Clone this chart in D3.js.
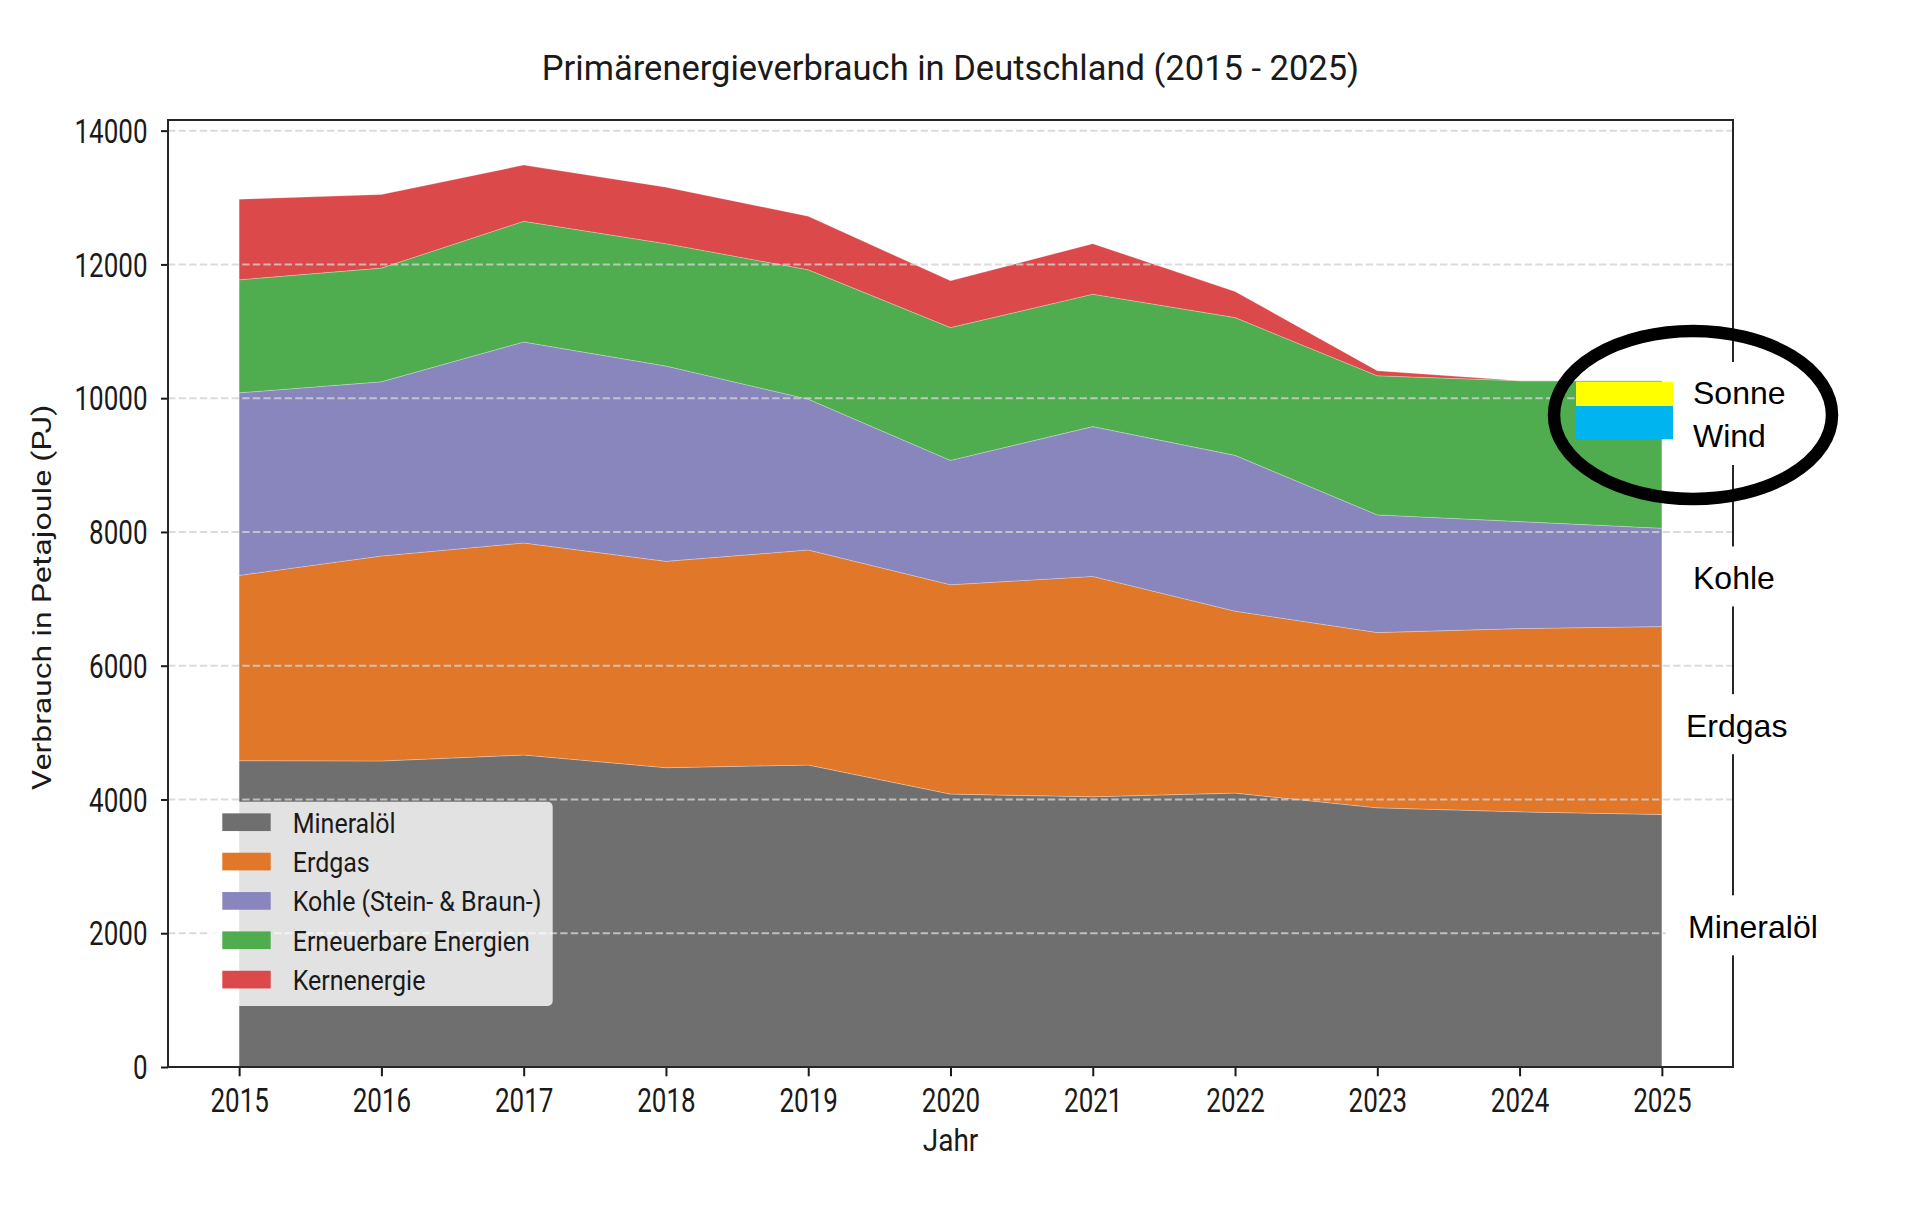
<!DOCTYPE html>
<html>
<head>
<meta charset="utf-8">
<script src="https://cdn.jsdelivr.net/npm/d3@7"></script>
<style>
  body { margin: 0; background: #fff; }
</style>
</head>
<body>
<script>
// data (PJ)
const years = [2015, 2016, 2017, 2018, 2019, 2020, 2021, 2022, 2023, 2024, 2025];
const mineraloel  = [4580, 4575, 4665, 4475, 4515, 4080, 4040, 4095, 3875, 3815, 3775];
const erdgas      = [2770, 3065, 3170, 3085, 3215, 3130, 3295, 2720, 2620, 2740, 2810];
const kohle       = [2730, 2605, 3005, 2920, 2255, 1860, 2240, 2330, 1760, 1600, 1470];
const erneuerbare = [1690, 1700, 1805, 1830, 1935, 1985, 1980, 2060, 2080, 2105, 2205];
const kernenergie = [1205, 1100,  840,  845,  800,  700,  755,  390,   75,    0,    0];

const seriesKeys   = ["Mineralöl", "Erdgas", "Kohle (Stein- & Braun-)", "Erneuerbare Energien", "Kernenergie"];
const seriesValues = [mineraloel, erdgas, kohle, erneuerbare, kernenergie];
const seriesColors = ["#6f6f6f", "#e07729", "#8986bd", "#4fad4f", "#db494a"];
const yTicks = [0, 2000, 4000, 6000, 8000, 10000, 12000, 14000];

// hand-made annotations on the right side (value = PJ position of the label)
const sideLabels = [
  { text: "Kohle", value: 7312, dx: 3 },
  { text: "Erdgas", value: 5103, dx: -4 },
  { text: "Mineralöl", value: 2096, dx: -2 }
];
const calloutLabels = ["Sonne", "Wind"];
const calloutColors = ["#ffff00", "#00b4f0"];

// layout
const width = 1920, height = 1211;
const plotLeft = 168, plotRight = 1733, plotTop = 120, plotBottom = 1067;
const font = "Roboto, 'Open Sans', sans-serif";
const ink = "#1a1a1a";

const table = years.map((yr, i) => {
  const row = { year: yr };
  seriesKeys.forEach((k, j) => (row[k] = seriesValues[j][i]));
  return row;
});

const stacked = d3.stack().keys(seriesKeys)(table);
const yMax = 1.05 * d3.max(table, (d) => d3.sum(seriesKeys, (k) => d[k]));

const x = d3.scaleLinear([2014.5, 2025.5], [plotLeft, plotRight]);
const y = d3.scaleLinear([0, yMax], [plotBottom, plotTop]);

const svg = d3
  .select("body")
  .append("svg")
  .attr("width", width)
  .attr("height", height)
  .attr("viewBox", [0, 0, width, height]);

svg.append("rect").attr("width", width).attr("height", height).attr("fill", "#fff");

// title
svg
  .append("text")
  .attr("x", (plotLeft + plotRight) / 2)
  .attr("y", 80)
  .attr("text-anchor", "middle")
  .attr("font-family", font)
  .attr("font-size", 34.5)
  .attr("fill", ink)
  .text("Primärenergieverbrauch in Deutschland (2015 - 2025)");

// stacked areas
const area = d3
  .area()
  .x((d) => x(d.data.year))
  .y0((d) => y(d[0]))
  .y1((d) => y(d[1]));

svg
  .append("g")
  .selectAll("path")
  .data(stacked)
  .join("path")
  .attr("d", area)
  .attr("fill", (d, i) => seriesColors[i])
  .attr("stroke", "#ffffff")
  .attr("stroke-opacity", 0.25)
  .attr("stroke-width", 1);

// dashed grid on top of the areas
svg
  .append("g")
  .selectAll("line")
  .data(yTicks)
  .join("line")
  .attr("x1", plotLeft)
  .attr("x2", plotRight)
  .attr("y1", (d) => y(d))
  .attr("y2", (d) => y(d))
  .attr("stroke", "#d2d2d2")
  .attr("stroke-opacity", 0.8)
  .attr("stroke-width", 2)
  .attr("stroke-dasharray", "7.4,3.2");

// axes
const yAxis = d3.axisLeft(y).tickValues(yTicks).tickFormat(d3.format("d")).tickSize(7).tickSizeOuter(0);
const xAxis = d3.axisBottom(x).tickValues(years).tickFormat(d3.format("d")).tickSize(9.3).tickSizeOuter(0);

svg
  .append("g")
  .attr("transform", `translate(${plotLeft},0)`)
  .call(yAxis)
  .call((g) => g.select(".domain").remove())
  .call((g) => g.selectAll(".tick line").attr("stroke", ink).attr("stroke-width", 2))
  .call((g) =>
    g
      .selectAll(".tick text")
      .attr("x", 0)
      .attr("dy", null)
      .attr("transform", "translate(-20.5,11.6) scale(1,1.26)")
      .attr("text-anchor", "end")
      .attr("font-family", font)
      .attr("font-size", 26)
      .attr("fill", ink)
  );

svg
  .append("g")
  .attr("transform", `translate(0,${plotBottom})`)
  .call(xAxis)
  .call((g) => g.select(".domain").remove())
  .call((g) => g.selectAll(".tick line").attr("stroke", ink).attr("stroke-width", 2))
  .call((g) =>
    g
      .selectAll(".tick text")
      .attr("y", 0)
      .attr("dy", null)
      .attr("transform", "translate(0,45) scale(1,1.26)")
      .attr("font-family", font)
      .attr("font-size", 26)
      .attr("fill", ink)
  );

// frame
svg
  .append("rect")
  .attr("x", plotLeft)
  .attr("y", plotTop)
  .attr("width", plotRight - plotLeft)
  .attr("height", plotBottom - plotTop)
  .attr("fill", "none")
  .attr("stroke", "#262626")
  .attr("stroke-width", 2);

// axis labels
svg
  .append("text")
  .attr("transform", `translate(${(plotLeft + plotRight) / 2},1151) scale(1,1.1)`)
  .attr("text-anchor", "middle")
  .attr("font-family", font)
  .attr("font-size", 28)
  .attr("fill", ink)
  .text("Jahr");

svg
  .append("text")
  .attr("transform", `translate(50.7,${(plotTop + plotBottom) / 2 + 4}) scale(1,1.25) rotate(-90)`)
  .attr("text-anchor", "middle")
  .attr("font-family", font)
  .attr("font-size", 25.7)
  .attr("fill", ink)
  .text("Verbrauch in Petajoule (PJ)");

// legend
const legend = svg.append("g");
legend
  .append("rect")
  .attr("x", 210)
  .attr("y", 801.7)
  .attr("width", 342.7)
  .attr("height", 204.3)
  .attr("rx", 5)
  .attr("fill", "#fff")
  .attr("fill-opacity", 0.8);

const rowY = (i) => 822.2 + i * 39.35;
legend
  .selectAll("g.item")
  .data(seriesKeys)
  .join("g")
  .attr("class", "item")
  .attr("transform", (d, i) => `translate(222.3,${rowY(i)})`)
  .each(function (d, i) {
    const g = d3.select(this);
    g.append("rect")
      .attr("x", 0)
      .attr("y", -8.85)
      .attr("width", 48.4)
      .attr("height", 17.7)
      .attr("fill", seriesColors[i]);
    g.append("text")
      .attr("transform", "translate(70.4,10.3) scale(1,1.08)")
      .attr("font-family", font)
      .attr("font-size", 25)
      .attr("fill", ink)
      .text(d);
  });

// right side annotations
const noteFont = "'Liberation Sans', Arial, Helvetica, sans-serif";
const boxX = 1666, boxW = 200;

const notes = svg.append("g");
notes
  .selectAll("rect.box")
  .data(sideLabels)
  .join("rect")
  .attr("class", "box")
  .attr("x", boxX)
  .attr("y", (d) => y(d.value) - 31.5)
  .attr("width", boxW)
  .attr("height", 60)
  .attr("fill", "#fff");

notes
  .selectAll("text.side")
  .data(sideLabels)
  .join("text")
  .attr("class", "side")
  .attr("x", (d) => 1690 + d.dx)
  .attr("y", (d) => y(d.value) + 11.4)
  .attr("font-family", noteFont)
  .attr("font-size", 32)
  .attr("fill", "#000")
  .text((d) => d.text);

// Sonne / Wind callout
notes
  .append("rect")
  .attr("x", boxX)
  .attr("y", 362)
  .attr("width", boxW)
  .attr("height", 103)
  .attr("fill", "#fff");

const swatchTop = [381.7, 406];
const swatchH = [24.3, 33.3];
notes
  .selectAll("rect.callout")
  .data(calloutLabels)
  .join("rect")
  .attr("class", "callout")
  .attr("x", 1576)
  .attr("y", (d, i) => swatchTop[i])
  .attr("width", 97)
  .attr("height", (d, i) => swatchH[i])
  .attr("fill", (d, i) => calloutColors[i]);

notes
  .selectAll("text.callout")
  .data(calloutLabels)
  .join("text")
  .attr("class", "callout")
  .attr("x", 1693)
  .attr("y", (d, i) => 404 + i * 43.3)
  .attr("font-family", noteFont)
  .attr("font-size", 32)
  .attr("fill", "#000")
  .text((d) => d);

notes
  .append("ellipse")
  .attr("cx", 1693)
  .attr("cy", 415)
  .attr("rx", 139)
  .attr("ry", 84)
  .attr("fill", "none")
  .attr("stroke", "#000")
  .attr("stroke-width", 12.5);
</script>
</body>
</html>
